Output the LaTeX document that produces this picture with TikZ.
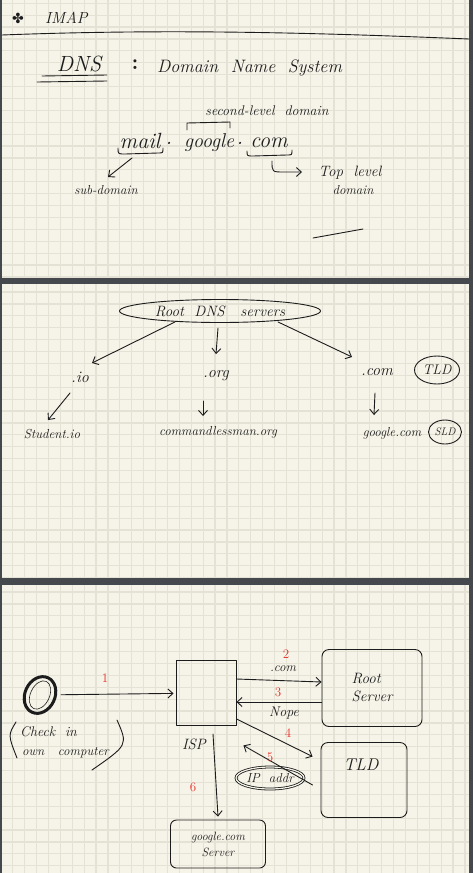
\documentclass[tikz,border=0pt]{standalone}
\usepackage{fontspec}
\newfontfamily\symfont{DejaVu Sans}
\usetikzlibrary{arrows.meta,shapes.geometric,calc}
\definecolor{paper}{HTML}{F6F4E8}
\definecolor{gridc}{HTML}{E4E2D5}
\definecolor{frame}{HTML}{45484C}
\definecolor{ink}{HTML}{1C1C1C}
\definecolor{redink}{HTML}{E8302A}
\tikzset{
  hw/.style={font=\itshape\fontsize{#1}{#1}\selectfont, text=ink, inner sep=0pt},
  hw/.default=14,
  pen/.style={draw=ink, line width=0.9pt, line cap=round, line join=round},
  arr/.style={pen, -{Straight Barb[length=5pt,width=9pt]}},
  num/.style={font=\fontsize{13}{13}\selectfont, text=redink, inner sep=0pt},
  srvbox/.style={pen, rounded corners=7pt, inner sep=0pt},
}
\begin{document}
\begin{tikzpicture}[x=1pt,y=-1pt]
\useasboundingbox (0,0) rectangle (473,873);
\fill[frame] (0,0) rectangle (473,873);
% panels with grid
\foreach \pa/\pb/\off in {0/277/-8.7, 284/577/280.1, 585/873/580.1}{
  \begin{scope}
    \clip (2,\pa) rectangle (469,\pb);
    \fill[paper] (2,\pa) rectangle (469,\pb);
    \foreach \i in {0,...,40} \draw[gridc,line width=1.2pt] ({0.8+11.9*\i},\pa) -- ({0.8+11.9*\i},\pb);
    \foreach \j in {0,...,26} \draw[gridc,line width=1.2pt] (2,{\off+11.9*\j}) -- (469,{\off+11.9*\j});
  \end{scope}
}

% ---------------- panel 1 ----------------
\node[hw=14] (imapsym) at (18,18) {\symfont ✤};
\node[hw=16, anchor=west] (imap) at (45,18) {IMAP};
\draw[pen] (2,35) .. controls (160,29) and (300,32) .. (469,39);

\node[hw=22] (dns) at (79,64) {DNS};
\draw[pen] (42,76) -- (107,75);
\draw[pen] (37,82) -- (107,81);
\node[font=\bfseries\fontsize{22}{22}\selectfont, text=ink, inner sep=0pt] (colon) at (135,65) {:};
\node[hw=18, anchor=west] (dnsfull) at (157,68) {Domain\ \ Name\ \ System};

\node[hw=14] (sldtxt) at (267,111) {second-level\ \ domain};
\draw[pen] (187,130) -- (187,123) -- (230,122) -- (230,128);

\node[hw=22] (mail) at (140,141) {mail};
\node[hw=22] (dotA) at (169,143) {.};
\node[hw=20] (google) at (209,143) {google};
\node[hw=22] (dotB) at (240,143) {.};
\node[hw=22] (com) at (269,143) {com};
\draw[pen] (118,148) .. controls (118,154) .. (125,154) -- (158,153) .. controls (163,153) .. (163,148);
\draw[pen] (247,151) .. controls (247,156) .. (253,156) -- (287,155) .. controls (292,155) .. (292,150);

\node[hw=13] (subdom) at (106,190) {sub-domain};
\coordinate (mailbr) at (132,158);
\coordinate (subin) at (108,177);
\draw[arr] (mailbr) -- (subin);

\node[hw=15] (toplevel) at (350,173) {Top\ \ level};
\node[hw=13] (tldom) at (353,190) {domain};
\coordinate (combr) at (272,161);
\coordinate (topin) at (302,172);
\draw[arr] (combr) .. controls (272,172) .. (284,172) -- (topin);

\draw[pen] (313,238) -- (363,229);

% ---------------- panel 2 ----------------
\node[pen, ellipse, minimum width=201, minimum height=23, hw=15] (root) at (220,311) {Root\ \ DNS\ \ \ servers};
\node[hw=16] (io) at (80,377) {.io};
\node[hw=16] (org) at (216,376) {.org};
\node[hw=16] (dcom) at (377,372) {.com};
\node[pen, ellipse, minimum width=45, minimum height=28, hw=14] (tldc) at (437,370) {TLD};
\node[hw=13] (student) at (52,434) {Student.io};
\node[hw=13] (cmd) at (218,432) {commandlessman.org};
\node[hw=13] (gcom) at (392,433) {google.com};
\node[pen, ellipse, minimum width=33, minimum height=24, hw=11] (sldc) at (445,432) {SLD};

\coordinate (ioin) at (92,363);
\coordinate (orgin) at (216,354);
\coordinate (comin) at (352,357);
\draw[arr] ($(root.south)+(-45,-1)$) -- (ioin);
\draw[arr] ($(root.south)+(-2,5)$) -- (orgin);
\draw[arr] ($(root.south)+(58,-1)$) -- (comin);

\coordinate (ioout) at (70,393);
\coordinate (studin) at (48,420);
\coordinate (orgout) at (203,401);
\coordinate (cmdin) at (203,416);
\coordinate (comout) at (375,393);
\coordinate (gin) at (374,415);
\draw[arr] (ioout) -- (studin);
\draw[arr] (orgout) -- (cmdin);
\draw[arr] (comout) -- (gin);

% ---------------- panel 3 ----------------
\node[draw=ink, line width=3pt, ellipse, minimum width=30, minimum height=38, rotate=-25] (pc) at (40,695) {};
\draw[ink, line width=0.6pt, rotate around={-25:(40,695)}] (40,695) ellipse [x radius=9.5, y radius=15];
\node[hw=14, anchor=west] (check) at (20,732) {Check\ \ in};
\node[hw=13, anchor=west] (owncomp) at (22,753) {own\ \ \ computer};
\draw[pen] (16,722) .. controls (8,735) .. (17,758);
\draw[pen] (117,720) .. controls (128,745) .. (92,770);

\node[pen, minimum width=60, minimum height=65, inner sep=0pt] (isp) at (206,693) {};
\node[hw=15] (isplbl) at (194,744) {ISP};

\node[srvbox, minimum width=100, minimum height=77, hw=15, align=left] (rootsrv) at (372,688) {Root\\[3pt]Server};
\node[srvbox, minimum width=86, minimum height=75] (tldbox) at (364,780) {};
\node[hw=17] (tldlbl) at (361,765) {TLD};
\node[srvbox, rounded corners=6pt, minimum width=95, minimum height=48, hw=12, align=center] (gbox) at (218,844) {google.com\\[4pt]Server};

\node[draw=ink, line width=0.8pt, double=paper, double distance=1.2pt, ellipse, minimum width=68, minimum height=22, hw=13] (ipaddr) at (270,778) {IP\ \ addr};

% arrows
\draw[arr, shorten <=4pt, shorten >=2pt] (pc) -- (isp);
\draw[arr] ([yshift=14pt]isp.east) -- ([yshift=6pt]rootsrv.west);
\draw[arr] ([yshift=-14pt]rootsrv.west) -- ([yshift=-9pt]isp.east);
\draw[arr] ([yshift=7pt]isp.south east) -- ([xshift=-8pt,yshift=-14.5pt]tldbox.north west);
\draw[arr] ([xshift=-8pt,yshift=-5pt]tldbox.west) -- ([xshift=7pt,yshift=-19.5pt]isp.south east);
\draw[arr] ([xshift=7pt,yshift=-8pt]isp.south) -- ([yshift=3pt]gbox.north);

% labels
\node[num] (n1) at (105,678) {1};
\node[num] (n2) at (286,654) {2};
\node[hw=13] (dotcom) at (283,669) {.com};
\node[num] (n3) at (278,692) {3};
\node[hw=14] (nope) at (284,713) {Nope};
\node[num] (n4) at (288,733) {4};
\node[num] (n5) at (270,757) {5};
\node[num] (n6) at (193,787) {6};
\end{tikzpicture}
\end{document}
